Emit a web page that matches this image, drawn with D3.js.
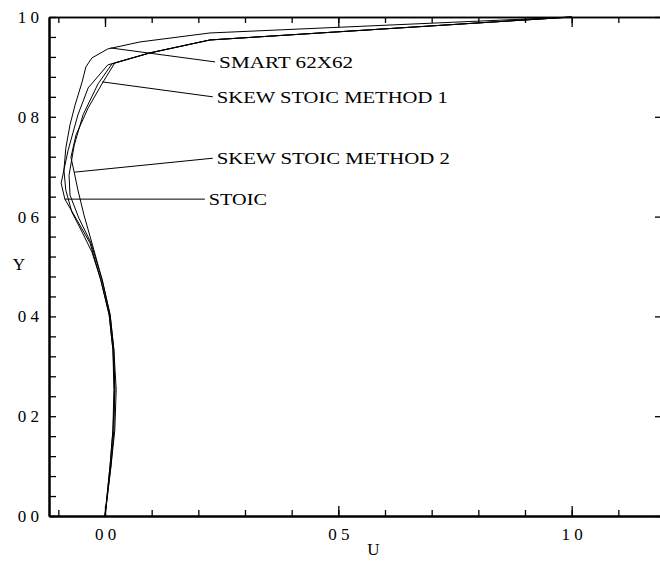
<!DOCTYPE html>
<html>
<head>
<meta charset="utf-8">
<script src="https://cdn.jsdelivr.net/npm/d3@7"></script>
<style>
  html, body { margin: 0; padding: 0; background: #fff; }
  text { font-family: "Liberation Serif", "DejaVu Serif", serif; fill: #000; }
</style>
</head>
<body>
<div class="canvas"></div>
<script>
// series values (U along the vertical centreline, Y height)
const smartU = [1.000, 0.225, 0.075, 0.006, -0.028, -0.041, -0.049, -0.064, -0.075, -0.084, -0.088, -0.084, -0.071, -0.049, -0.028, -0.009, 0.009, 0.017, 0.021, 0.017, 0.011, 0.000];
const smartY = [1.000, 0.968, 0.950, 0.936, 0.918, 0.900, 0.870, 0.824, 0.784, 0.737, 0.693, 0.653, 0.609, 0.569, 0.529, 0.473, 0.403, 0.333, 0.253, 0.172, 0.102, 0.000];

const stoicU = [1.000, 0.225, 0.096, 0.006, -0.036, -0.058, -0.079, -0.094, -0.086, -0.060, -0.032, -0.009, 0.009, 0.017, 0.019, 0.017, 0.011, 0.000];
const stoicY = [1.000, 0.954, 0.928, 0.904, 0.858, 0.804, 0.733, 0.667, 0.635, 0.593, 0.547, 0.473, 0.403, 0.333, 0.253, 0.172, 0.102, 0.000];

const skew1U = [1.000, 0.225, 0.096, 0.015, -0.015, -0.047, -0.066, -0.077, -0.075, -0.056, -0.030, -0.006, 0.011, 0.019, 0.021, 0.019, 0.013, 0.000];
const skew1Y = [1.000, 0.954, 0.928, 0.906, 0.866, 0.804, 0.743, 0.683, 0.643, 0.597, 0.547, 0.473, 0.403, 0.333, 0.253, 0.172, 0.102, 0.000];

const skew2U = [1.000, 0.225, 0.096, 0.021, -0.004, -0.036, -0.062, -0.073, -0.066, -0.058, -0.045, -0.028, -0.006, 0.011, 0.019, 0.024, 0.021, 0.013, 0.000];
const skew2Y = [1.000, 0.954, 0.928, 0.908, 0.870, 0.818, 0.764, 0.719, 0.689, 0.653, 0.603, 0.547, 0.473, 0.403, 0.333, 0.253, 0.172, 0.102, 0.000];

// labels and the curve point each leader starts from / ends at (data units)
const labelNames = ['SMART 62X62', 'SKEW STOIC METHOD 1', 'SKEW STOIC METHOD 2', 'STOIC'];
const leaderFromU = [0.012, -0.006, -0.066, -0.086];
const leaderFromY = [0.938, 0.870, 0.689, 0.635];
const leaderToU = [0.236, 0.231, 0.231, 0.214];
const leaderToY = [0.910, 0.840, 0.717, 0.635];

// tick values
const xMajor = [0.0, 0.5, 1.0];
const xMinor = d3.range(-0.1, 1.2, 0.1).map(d => +d.toFixed(2));
const yMajor = [0.0, 0.2, 0.4, 0.6, 0.8, 1.0];
const yMinor = d3.range(0, 1.001, 0.04).map(d => +d.toFixed(2));

const width = 660, height = 563;
const margin = { top: 17, left: 49, bottom: 47, right: -5 };

const svg = d3.select('.canvas')
  .append('svg')
  .attr('width', width)
  .attr('height', height)
  .style('display', 'block');

const x = d3.scaleLinear().domain([-0.12, 1.2]).range([margin.left, width - margin.right]);
const y = d3.scaleLinear().domain([0, 1]).range([height - margin.bottom, margin.top]);

const fmt = d => d3.format('.1f')(d).replace('.', ' ');

// curves
const line = d3.line().x(d => x(d[0])).y(d => y(d[1]));
const series = [[smartU, smartY], [stoicU, stoicY], [skew1U, skew1Y], [skew2U, skew2Y]];
svg.append('g')
  .selectAll('path')
  .data(series.map(([u, v]) => u.map((d, i) => [d, v[i]])))
  .enter()
  .append('path')
  .attr('d', line)
  .attr('fill', 'none')
  .attr('stroke', '#000')
  .attr('stroke-width', 1);

// leaders and labels
const ann = svg.append('g');
labelNames.forEach((name, i) => {
  ann.append('line')
    .attr('x1', x(leaderFromU[i])).attr('y1', y(leaderFromY[i]))
    .attr('x2', x(leaderToU[i])).attr('y2', y(leaderToY[i]))
    .attr('stroke', '#000').attr('stroke-width', 1);
});
const labelWidths = [134, 231, 233, 58];
ann.selectAll('text.lab')
  .data(labelNames)
  .enter()
  .append('text')
  .attr('class', 'lab')
  .attr('x', (d, i) => x(leaderToU[i]) + 4)
  .attr('y', (d, i) => y(leaderToY[i]) + 6)
  .attr('font-size', 17)
  .attr('textLength', (d, i) => labelWidths[i])
  .attr('lengthAdjust', 'spacingAndGlyphs')
  .text(d => d);

// axes
const bottom = height - margin.bottom;
const xMinorAxis = d3.axisBottom(x).tickValues(xMinor).tickSize(-6).tickSizeOuter(0).tickFormat('');
const xMajorAxis = d3.axisBottom(x).tickValues(xMajor).tickSize(-10).tickSizeOuter(0).tickPadding(12).tickFormat(fmt);
svg.append('g').attr('transform', `translate(0, ${bottom})`).call(xMinorAxis);
svg.append('g').attr('transform', `translate(0, ${bottom})`).call(xMajorAxis);

const xTopMinor = d3.axisTop(x).tickValues(xMinor).tickSize(-6).tickSizeOuter(0).tickFormat('');
const xTopMajor = d3.axisTop(x).tickValues(xMajor).tickSize(-10).tickSizeOuter(0).tickFormat('');
svg.append('g').attr('class', 'top').attr('transform', `translate(0, ${margin.top})`).call(xTopMinor);
svg.append('g').attr('class', 'top').attr('transform', `translate(0, ${margin.top})`).call(xTopMajor);

const yAxis = d3.axisLeft(y).tickValues(yMinor).tickSize(-7).tickSizeOuter(0).tickFormat('');
const yLabels = d3.axisLeft(y).tickValues(yMajor).tickSize(0).tickPadding(10).tickFormat(fmt);
svg.append('g').attr('transform', `translate(${margin.left}, 0)`).call(yAxis);
svg.append('g').attr('transform', `translate(${margin.left}, 0)`).call(yLabels);

const yRight = d3.axisRight(y).tickValues(yMajor).tickSize(-10).tickSizeOuter(0).tickFormat('');
svg.append('g').attr('transform', `translate(${width - margin.right}, 0)`).call(yRight);

svg.selectAll('.domain').attr('stroke', '#000').attr('stroke-width', 2);
svg.selectAll('.top .domain').attr('stroke-width', 1.3);
svg.selectAll('.tick line').attr('stroke', '#000').attr('stroke-width', 1.3);
svg.selectAll('.tick text').attr('font-size', 17).attr('font-family', '"Liberation Serif", serif').attr('fill', '#000');

// axis titles
svg.append('text').attr('x', x(0.575)).attr('y', 555).attr('text-anchor', 'middle').attr('font-size', 17).text('U');
svg.append('text').attr('x', 19).attr('y', 270).attr('text-anchor', 'middle').attr('font-size', 17).text('Y');
</script>
</body>
</html>
